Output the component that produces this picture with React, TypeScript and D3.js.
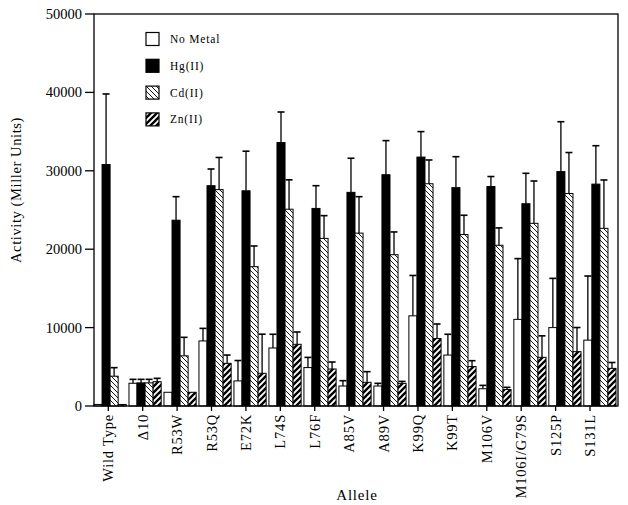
import React from "react";
import * as d3 from "d3";

const categories = ["Wild Type", "Δ10", "R53W", "R53Q", "E72K", "L74S", "L76F", "A85V", "A89V", "K99Q", "K99T", "M106V", "M106I/G79S", "S125P", "S131L"];
const seriesNames = ["No Metal", "Hg(II)", "Cd(II)", "Zn(II)"];

const noMetal = [200, 2900, 1750, 8300, 3200, 7400, 4900, 2550, 2550, 11500, 6500, 2200, 11050, 10000, 8400];
const noMetalErr = [0, 500, 0, 1600, 2600, 1750, 1300, 680, 340, 5150, 2650, 430, 7750, 6280, 8180];
const hg = [30800, 2950, 23700, 28100, 27450, 33600, 25200, 27250, 29500, 31750, 27850, 28000, 25800, 29900, 28300];
const hgErr = [9000, 450, 3000, 2130, 5050, 3900, 2900, 4350, 4350, 3250, 3950, 1270, 3880, 6360, 4900];
const cd = [3800, 2950, 6400, 27600, 17770, 25100, 21380, 22050, 19300, 28350, 21870, 20500, 23300, 27100, 22660];
const cdErr = [1090, 450, 2360, 4100, 2640, 3750, 2900, 4650, 2900, 3030, 2460, 2220, 5400, 5230, 6170];
const zn = [200, 3100, 1750, 5440, 4170, 7870, 4720, 3020, 2890, 8600, 5030, 2100, 6210, 6930, 4800];
const znErr = [0, 430, 0, 1060, 4990, 1570, 890, 1360, 250, 1860, 750, 280, 2740, 3080, 750];

const yTicks = [0, 10000, 20000, 30000, 40000, 50000];

const values = [noMetal, hg, cd, zn];
const errors = [noMetalErr, hgErr, cdErr, znErr];
const fills = ["#fff", "#000", "url(#pCd)", "url(#pZn)"];

const W = 628, H = 505;
const left = 94, right = 618, top = 14, bottom = 406;
const FONT = "'Liberation Serif', 'Times New Roman', serif";

export default function App() {
  const y = d3.scaleLinear().domain([0, 50000]).range([bottom, top]);
  const x = d3.scaleBand<string>().domain(categories).range([left, 616]).paddingInner(0.08).paddingOuter(0);
  const xs = d3.scaleBand<string>().domain(seriesNames).range([0, x.bandwidth()]).padding(0);
  const tickX = d3.scalePoint<string>().domain(categories).range([108.3, 590]);
  const capW = 7;

  return (
    <svg width={W} height={H} style={{ position: "absolute", left: 0, top: 0, display: "block", background: "#fff" }} fontFamily={FONT}>
      <defs>
        <pattern id="pCd" patternUnits="userSpaceOnUse" width={5} height={5}>
          <rect width={5} height={5} fill="#fff" />
          <path d="M0,0 L5,5 M-1,4 L1,6 M4,-1 L6,1" stroke="#000" strokeWidth={0.9} />
        </pattern>
        <pattern id="pZn" patternUnits="userSpaceOnUse" width={6} height={6}>
          <rect width={6} height={6} fill="#fff" />
          <path d="M0,6 L6,0 M-1,1 L1,-1 M5,7 L7,5" stroke="#000" strokeWidth={2.3} />
        </pattern>
      </defs>

      {/* bars */}
      {categories.map((c, i) => (
        <g key={c}>
          {seriesNames.map((s, k) => {
            const v = values[k][i];
            const bx = (x(c) as number) + (xs(s) as number);
            const bw = xs.bandwidth();
            return (
              <rect key={s} x={bx} y={y(v)} width={bw} height={bottom - y(v)} fill={fills[k]} stroke="#000" strokeWidth={1} />
            );
          })}
        </g>
      ))}
      {/* error bars */}
      {categories.map((c, i) => (
        <g key={c + "e"}>
          {seriesNames.map((s, k) => {
            const v = values[k][i];
            const e = errors[k][i];
            if (!e) return null;
            const cx = (x(c) as number) + (xs(s) as number) + xs.bandwidth() / 2;
            return (
              <g key={s} stroke="#000" strokeWidth={1.3}>
                <line x1={cx} x2={cx} y1={y(v)} y2={y(v + e)} />
                <line x1={cx - capW / 2} x2={cx + capW / 2} y1={y(v + e)} y2={y(v + e)} strokeWidth={1.6} />
              </g>
            );
          })}
        </g>
      ))}

      {/* frame */}
      <rect x={left} y={top} width={right - left} height={bottom - top} fill="none" stroke="#000" strokeWidth={1.3} />

      {/* y axis ticks */}
      {yTicks.map((t) => (
        <g key={t}>
          <line x1={left - 9} x2={left} y1={y(t)} y2={y(t)} stroke="#000" strokeWidth={1.3} />
          <text x={left - 12} y={y(t)} dy="0.35em" textAnchor="end" fontSize={14.5}>{t}</text>
        </g>
      ))}

      {/* x axis ticks */}
      {categories.map((c) => {
        const tx = tickX(c) as number;
        return (
          <g key={c + "t"}>
            <line x1={tx} x2={tx} y1={bottom} y2={bottom + 5} stroke="#000" strokeWidth={1.3} />
            <text transform={`translate(${tx},${bottom + 8}) rotate(-90)`} dy="0.35em" textAnchor="end" fontSize={14.5} letterSpacing={0.8}>{c}</text>
          </g>
        );
      })}

      {/* axis titles */}
      <text transform={`translate(16,190) rotate(-90)`} dy="0.35em" textAnchor="middle" fontSize={14.5} letterSpacing={0.6}>Activity (Miller Units)</text>
      <text x={357} y={495} dy="0.35em" textAnchor="middle" fontSize={15} letterSpacing={0.8}>Allele</text>

      {/* legend */}
      {seriesNames.map((s, k) => {
        const ly = 39 + k * 26.8;
        return (
          <g key={s + "l"}>
            <rect x={146} y={ly - 6.5} width={13} height={13} fill={fills[k]} stroke="#000" strokeWidth={1.2} />
            <text x={170} y={ly} dy="0.35em" fontSize={11.5} letterSpacing={0.8}>{s}</text>
          </g>
        );
      })}
    </svg>
  );
}
